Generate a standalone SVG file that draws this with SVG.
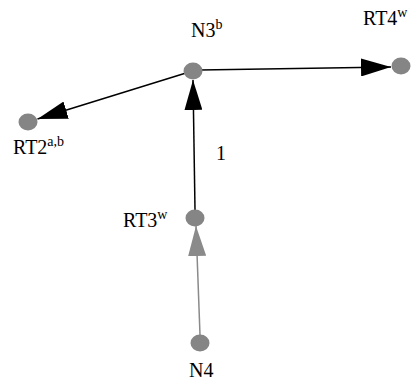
<svg xmlns="http://www.w3.org/2000/svg" width="412" height="381" viewBox="0 0 412 381">
<style>
.node{fill:#858585;stroke:none}
.lbl{font-family:"Liberation Serif","Times New Roman",serif;font-size:20px;fill:#000}
.sup{font-size:14px}
.e{fill:none;stroke:#000;stroke-width:1.5}
.g{fill:none;stroke:#8a8a8a;stroke-width:1.5}
</style>
<defs>
<marker id="ab" markerUnits="userSpaceOnUse" markerWidth="30" markerHeight="18" refX="30" refY="9" orient="auto"><path d="M0,0 L30,9 L0,18 z" fill="#000"/></marker>
<marker id="ag" markerUnits="userSpaceOnUse" markerWidth="30" markerHeight="18" refX="30" refY="9" orient="auto"><path d="M0,0 L30,9 L0,18 z" fill="#8a8a8a"/></marker>
</defs>
<rect width="412" height="381" fill="#fff"/>
<g id="connectors">
<line class="e" x1="200" y1="70" x2="391" y2="67" marker-end="url(#ab)"/>
<line class="e" x1="186" y1="73" x2="37.5" y2="119" marker-end="url(#ab)"/>
<line class="e" x1="195" y1="210" x2="193" y2="80" marker-end="url(#ab)"/>
<line class="g" x1="200" y1="335" x2="196" y2="226" marker-end="url(#ag)"/>
<text class="lbl" x="216" y="160">1</text>
</g>
<g id="N3">
<ellipse class="node" cx="193" cy="71" rx="9.5" ry="8.5"/>
<text class="lbl" x="191" y="37">N3<tspan class="sup" dy="-8">b</tspan></text>
</g>
<g id="RT4">
<ellipse class="node" cx="401" cy="66" rx="9.5" ry="8.5"/>
<text class="lbl" x="363" y="25">RT4<tspan class="sup" dy="-8">w</tspan></text>
</g>
<g id="RT2">
<ellipse class="node" cx="28" cy="122" rx="9.5" ry="8.5"/>
<text class="lbl" x="13" y="154">RT2<tspan class="sup" dy="-8">a,b</tspan></text>
</g>
<g id="RT3">
<ellipse class="node" cx="195" cy="218" rx="9.5" ry="8.5"/>
<text class="lbl" x="123" y="227">RT3<tspan class="sup" dy="-8">w</tspan></text>
</g>
<g id="N4">
<ellipse class="node" cx="200" cy="343" rx="9.5" ry="8.5"/>
<text class="lbl" x="189" y="377">N4</text>
</g>
</svg>
